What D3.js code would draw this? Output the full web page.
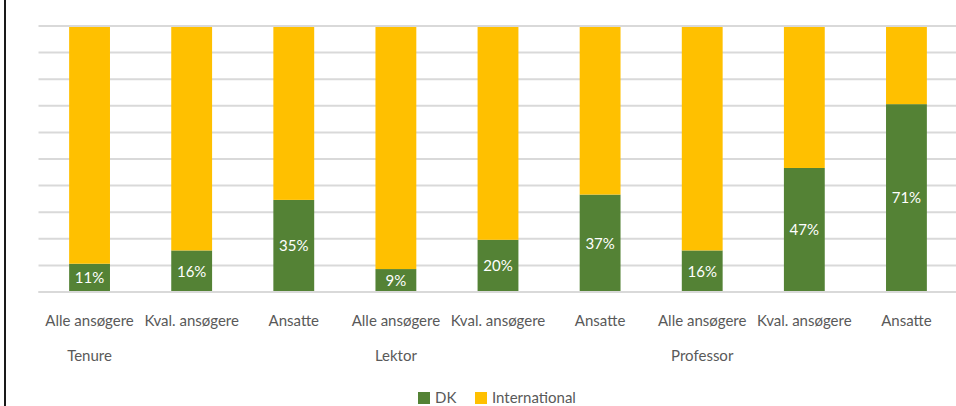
<!DOCTYPE html>
<html>
<head>
<meta charset="utf-8">
<script src="https://cdn.jsdelivr.net/npm/d3@7"></script>
<style>
  html, body { margin: 0; padding: 0; background: #fff; }
  svg { display: block; }
  text { font-family: Lato, "Open Sans", sans-serif; }
</style>
</head>
<body>
<svg id="chart" width="956" height="406"></svg>
<script>
// Share of Danish vs. international applicants and hires, by position
const categories = ["Alle ansøgere", "Kval. ansøgere", "Ansatte",
                    "Alle ansøgere", "Kval. ansøgere", "Ansatte",
                    "Alle ansøgere", "Kval. ansøgere", "Ansatte"];
const groups = ["Tenure", "Lektor", "Professor"];
const dkShare = [11, 16, 35, 9, 20, 37, 16, 47, 71];
const intlShare = dkShare.map(v => 100 - v);
const seriesNames = ["DK", "International"];
const yTicks = [0, 10, 20, 30, 40, 50, 60, 70, 80, 90, 100];

const colors = { DK: "#548235", International: "#FFC000" };
const textGrey = "#595959";

const svg = d3.select("#chart");

// frame edge on the left
svg.append("rect").attr("x", 4).attr("y", 0).attr("width", 2).attr("height", 406).attr("fill", "#1a1a1a");

const ids = categories.map((c, i) => i);
const x = d3.scaleBand().domain(ids).range([38.5, 957.5]).paddingInner(0.6).paddingOuter(0.3);
const y = d3.scaleLinear().domain([0, 100]).range([293, 27]);

// gridlines
svg.append("g").selectAll("line").data(yTicks).join("line")
  .attr("x1", 38.5).attr("x2", 958)
  .attr("y1", d => y(d) - 1).attr("y2", d => y(d) - 1)
  .attr("stroke", "#d9d9d9").attr("stroke-width", 2);

const rows = ids.map(i => ({ i, DK: dkShare[i], International: intlShare[i] }));
const stacked = d3.stack().keys(seriesNames)(rows);

svg.append("g").selectAll("g").data(stacked).join("g")
  .attr("fill", s => colors[s.key])
  .selectAll("rect").data(s => s).join("rect")
  .attr("x", d => x(d.data.i))
  .attr("width", x.bandwidth())
  .attr("y", d => y(d[1]))
  .attr("height", d => y(d[0]) - y(d[1]));

// baseline
svg.append("line").attr("x1", 38.5).attr("x2", 958).attr("y1", 292).attr("y2", 292)
  .attr("stroke", "#d9d9d9").attr("stroke-width", 2);

// value labels in the DK segments
svg.append("g").selectAll("text").data(rows).join("text")
  .attr("x", d => x(d.i) + x.bandwidth() / 2)
  .attr("y", d => (y(0) + y(d.DK)) / 2 + 1)
  .attr("text-anchor", "middle").attr("dominant-baseline", "middle")
  .attr("fill", "#fff").attr("font-size", 15)
  .text(d => d.DK + "%");

// category labels
svg.append("g").selectAll("text").data(ids).join("text")
  .attr("x", i => x(i) + x.bandwidth() / 2)
  .attr("y", 326)
  .attr("text-anchor", "middle").attr("fill", textGrey).attr("font-size", 15)
  .text(i => categories[i]);

// group labels under the middle bar of each group
svg.append("g").selectAll("text").data(groups).join("text")
  .attr("x", (g, k) => x(k * 3) + x.bandwidth() / 2)
  .attr("y", 361)
  .attr("text-anchor", "middle").attr("fill", textGrey).attr("font-size", 15)
  .text(g => g);

// legend
const legend = svg.append("g");
const legendX = [418, 475];
seriesNames.forEach((name, k) => {
  legend.append("rect").attr("x", legendX[k]).attr("y", 392).attr("width", 12).attr("height", 12)
    .attr("fill", colors[name]);
  legend.append("text").attr("x", legendX[k] + 17).attr("y", 403)
    .attr("fill", textGrey).attr("font-size", 15).text(name);
});
</script>
</body>
</html>
